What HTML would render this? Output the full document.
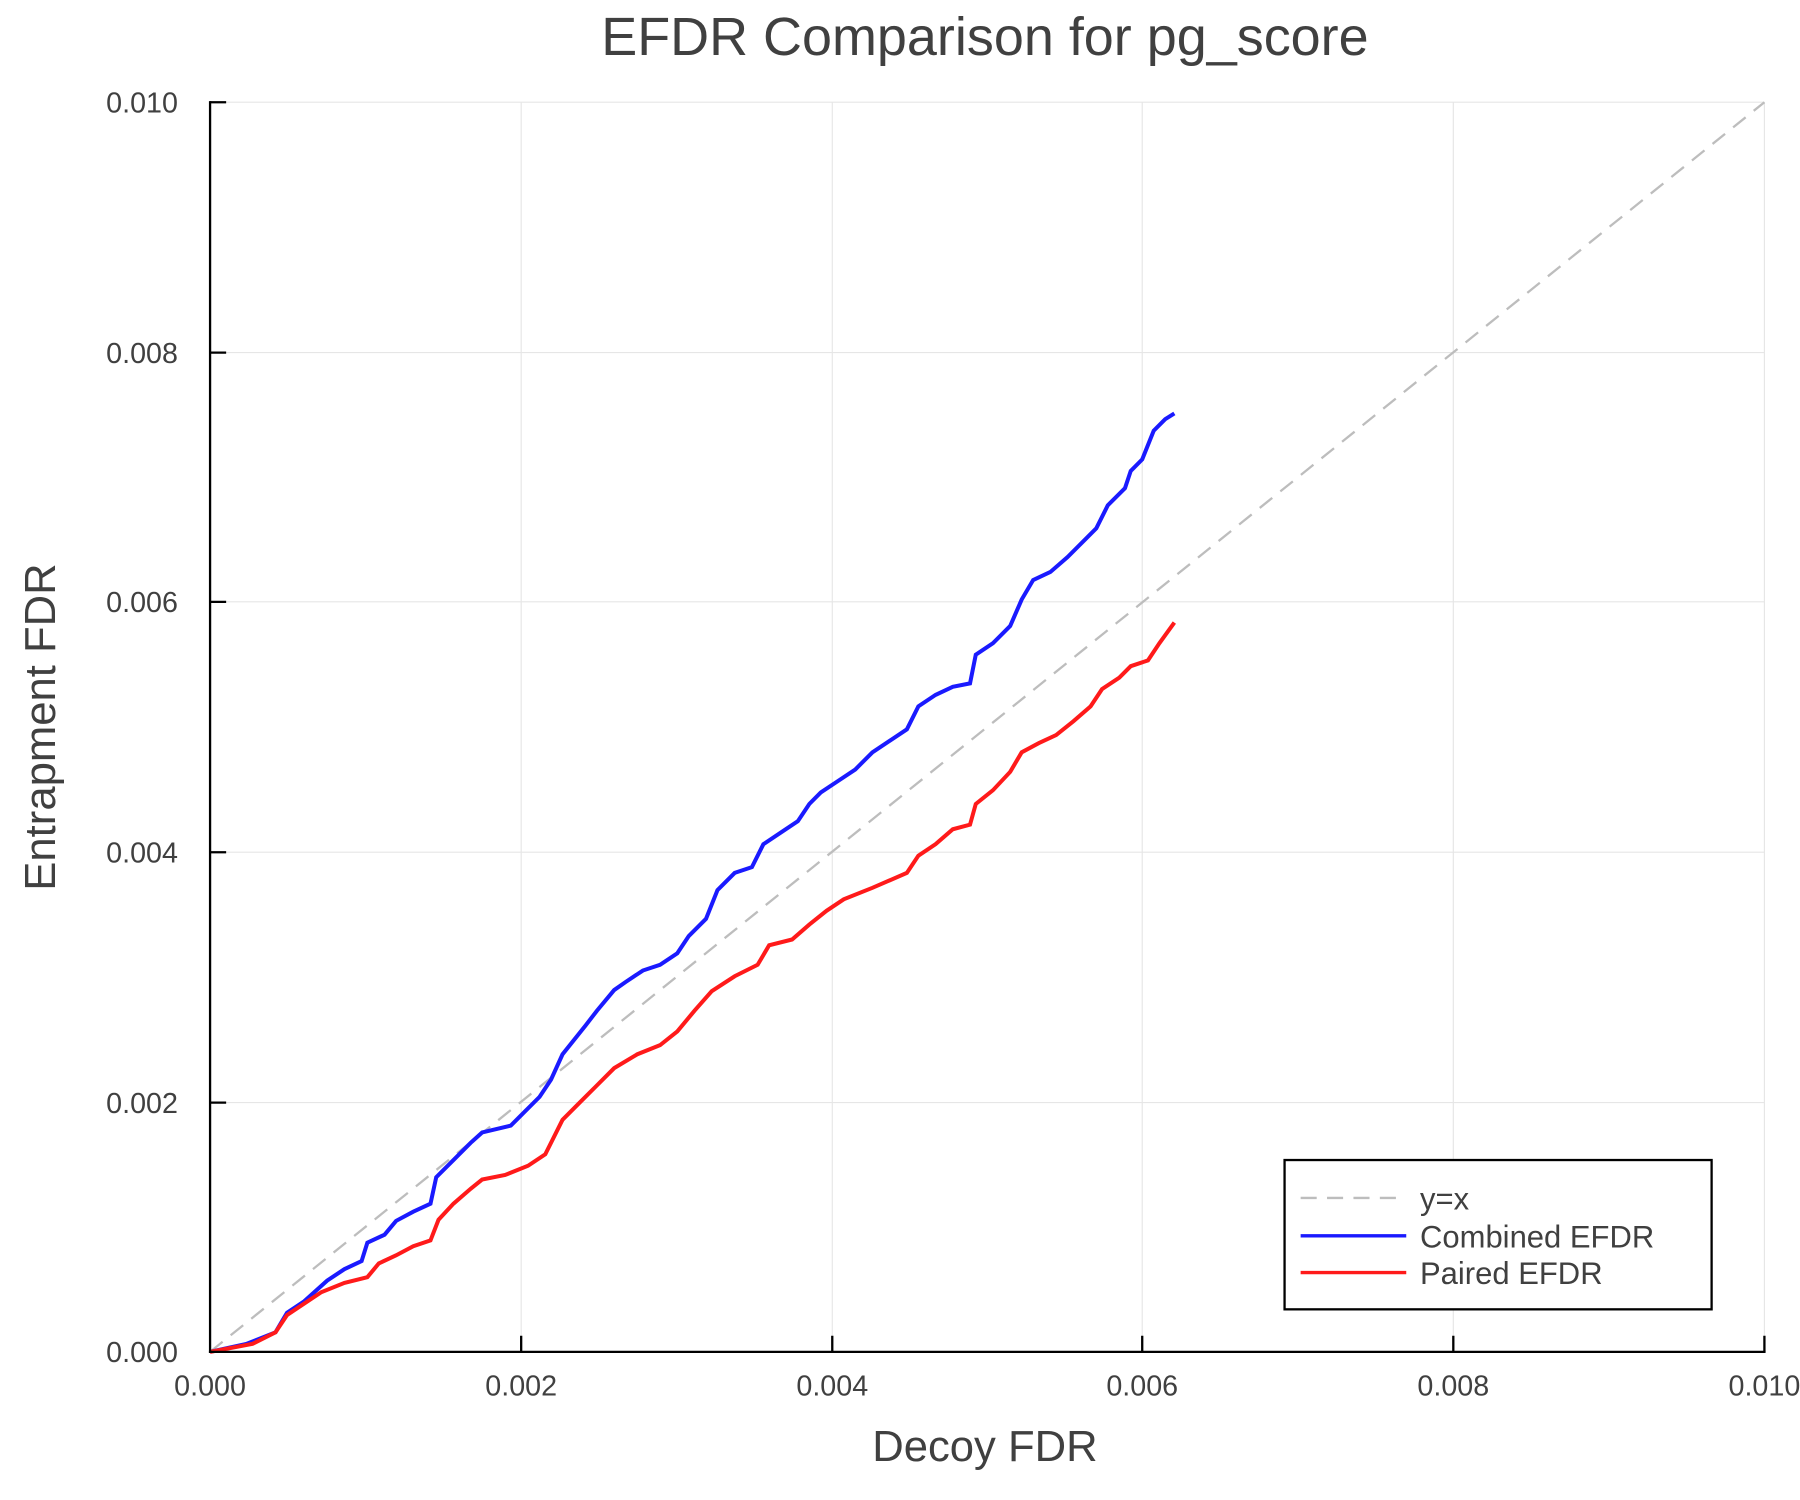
<!DOCTYPE html>
<html><head><meta charset="utf-8"><style>html,body{margin:0;padding:0;background:#fff}svg{display:block}</style></head>
<body>
<svg width="1800" height="1500" viewBox="0 0 1568 1306" preserveAspectRatio="none" xmlns="http://www.w3.org/2000/svg" font-family="Liberation Sans, sans-serif">
<rect width="1568" height="1306" fill="#fff"/>
<g stroke="#e6e6e6" stroke-width="1">
<line x1="454" y1="89" x2="454" y2="1177"/><line x1="725" y1="89" x2="725" y2="1177"/><line x1="995" y1="89" x2="995" y2="1177"/><line x1="1266" y1="89" x2="1266" y2="1177"/><line x1="1537" y1="89" x2="1537" y2="1177"/>
<line x1="183" y1="89" x2="1537" y2="89"/><line x1="183" y1="307" x2="1537" y2="307"/><line x1="183" y1="524" x2="1537" y2="524"/><line x1="183" y1="742" x2="1537" y2="742"/><line x1="183" y1="960" x2="1537" y2="960"/>
</g>
<line x1="183" y1="1177" x2="1537" y2="89" stroke="#bdbdbd" stroke-width="2" stroke-dasharray="14,9"/>
<polyline fill="none" stroke="#1a1aff" stroke-width="3.5" points="183,1177 215,1170 240,1160 250,1143 265,1133 285,1115 300,1105 315,1098 320,1082 335,1075 345,1063 360,1055 375,1048 380,1025 395,1010 410,995 420,986 445,980 455,970 470,955 480,940 490,918 510,893 520,880 535,862 545,855 560,845 575,840 590,830 600,815 615,800 625,775 640,760 655,755 665,735 680,725 695,715 705,700 715,690 730,680 745,670 760,655 775,645 790,635 800,615 815,605 830,598 845,595 850,570 865,560 880,545 890,522 900,505 915,498 930,485 945,470 955,460 965,440 980,425 985,410 995,400 1005,375 1015,365 1023,360"/>
<polyline fill="none" stroke="#ff1a1a" stroke-width="3.5" points="183,1177 220,1170 240,1160 250,1145 265,1135 280,1125 300,1117 320,1112 330,1100 345,1093 360,1085 375,1080 382,1062 395,1048 410,1035 420,1027 440,1023 460,1015 475,1005 490,975 505,960 520,945 535,930 555,918 575,910 590,898 605,880 620,863 640,850 660,840 670,823 690,818 705,805 720,793 735,783 760,773 790,760 800,745 815,735 830,722 845,718 850,700 865,688 880,672 890,655 905,647 920,640 935,628 950,615 960,600 975,590 985,580 1000,575 1010,560 1023,542"/>
<g stroke="#000" stroke-width="2" fill="none">
<line x1="183" y1="88" x2="183" y2="1178"/><line x1="182" y1="1177" x2="1538" y2="1177"/>
<path d="M454,1177v-14M725,1177v-14M995,1177v-14M1266,1177v-14M1537,1177v-14M183,89h14M183,307h14M183,524h14M183,742h14M183,960h14"/>
</g>
<g fill="#404040" font-size="25">
<g text-anchor="middle"><text x="183" y="1215">0.000</text><text x="454" y="1215">0.002</text><text x="725" y="1215">0.004</text><text x="995" y="1215">0.006</text><text x="1266" y="1215">0.008</text><text x="1537" y="1215">0.010</text></g>
<g text-anchor="end"><text x="155" y="1186">0.000</text><text x="155" y="969">0.002</text><text x="155" y="751">0.004</text><text x="155" y="533">0.006</text><text x="155" y="316">0.008</text><text x="155" y="98">0.010</text></g>
<text x="858" y="48" text-anchor="middle" font-size="47">EFDR Comparison for pg_score</text>
<text x="858" y="1272" text-anchor="middle" font-size="38">Decoy FDR</text>
<text transform="translate(48,633) rotate(-90)" text-anchor="middle" font-size="38">Entrapment FDR</text>
</g>
<rect x="1119" y="1010" width="372" height="130" fill="#fff" stroke="#000" stroke-width="2"/>
<line x1="1133" y1="1043" x2="1225" y2="1043" stroke="#bdbdbd" stroke-width="2" stroke-dasharray="14,9"/>
<line x1="1133" y1="1076" x2="1225" y2="1076" stroke="#1a1aff" stroke-width="3"/>
<line x1="1133" y1="1108" x2="1225" y2="1108" stroke="#ff1a1a" stroke-width="3"/>
<g fill="#404040" font-size="27"><text x="1237" y="1053">y=x</text><text x="1237" y="1086">Combined EFDR</text><text x="1237" y="1118">Paired EFDR</text></g>
</svg>
</body></html>
